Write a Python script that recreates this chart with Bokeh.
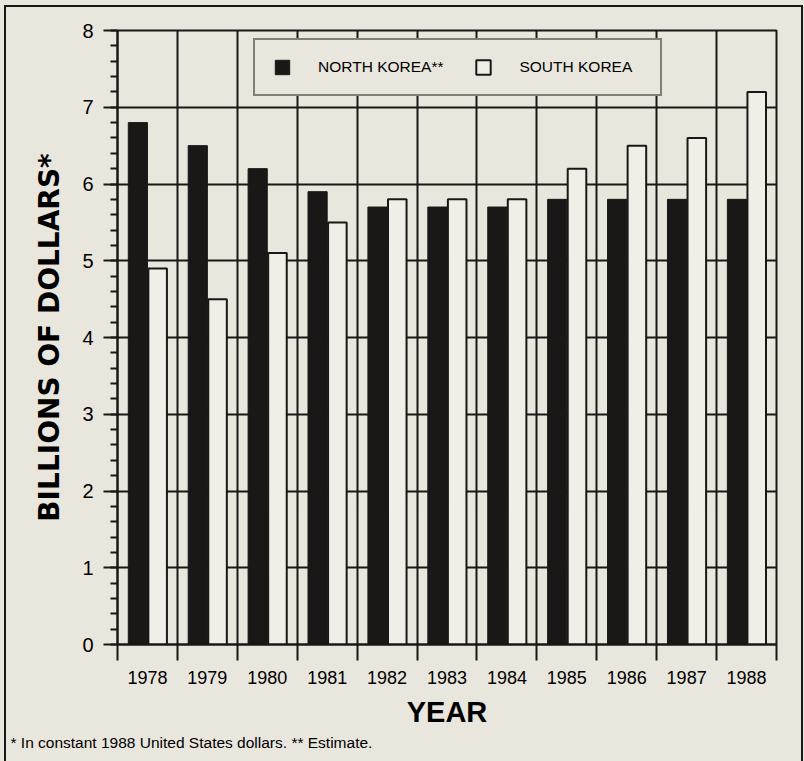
from bokeh.plotting import figure
from bokeh.models import (Range1d, FixedTicker, SingleIntervalTicker, Legend, LegendItem,
                          Title, ColumnDataSource)
from bokeh.embed import file_html
from bokeh.resources import INLINE

years = ["1978", "1979", "1980", "1981", "1982", "1983", "1984", "1985", "1986", "1987", "1988"]
north_korea = [6.8, 6.5, 6.2, 5.9, 5.7, 5.7, 5.7, 5.8, 5.8, 5.8, 5.8]
south_korea = [4.9, 4.5, 5.1, 5.5, 5.8, 5.8, 5.8, 6.2, 6.5, 6.6, 7.2]
y_max = 8
series_labels = ["NORTH KOREA**", "SOUTH KOREA"]
footnote = "* In constant 1988 United States dollars.  ** Estimate."

BG = "#e9e6de"
LIGHT = "#f1eee8"
DARK = "#1b1717"
FONT = "Liberation Sans"

W, H = 804, 761
n = len(years)
centers = [i + 0.5 for i in range(n)]

src = ColumnDataSource(dict(year=years, c=centers, nk=north_korea, sk=south_korea,
                            nkx=[c - 0.16 for c in centers], skx=[c + 0.17 for c in centers]))

p = figure(width=W, height=H, output_backend="svg", toolbar_location=None,
           x_range=Range1d(0, n), y_range=Range1d(0, y_max),
           min_border_left=117, min_border_right=W - 776, min_border_top=30, min_border_bottom=H - 644)
p.background_fill_color = BG
p.border_fill_color = BG
p.border_fill_alpha = 0
p.outline_line_color = DARK
p.outline_line_width = 2
line = f"linear-gradient({DARK},{DARK})"
p.styles = {
    "background": f"{line} 4px 5px / 2px 100% no-repeat, {line} 4px 5px / 799px 2px no-repeat, "
                  f"{line} 801px 5px / 2px 100% no-repeat, {BG}",
}

# grids
p.xgrid.ticker = FixedTicker(ticks=list(range(1, n)))
p.ygrid.ticker = FixedTicker(ticks=list(range(1, y_max)))
for g in (p.xgrid, p.ygrid):
    g.grid_line_color = DARK
    g.grid_line_width = 2

r_nk = p.vbar(x="nkx", top="nk", width=0.32, source=src, fill_color=DARK, line_color=DARK, line_width=1)
r_sk = p.vbar(x="skx", top="sk", width=0.31, source=src, fill_color=LIGHT, line_color=DARK, line_width=2)

# x axis
xa = p.xaxis[0]
xa.ticker = FixedTicker(ticks=centers, minor_ticks=list(range(0, n + 1)))
xa.major_label_overrides = {c: y for c, y in zip(centers, years)}
xa.major_tick_out = 0
xa.major_tick_in = 0
xa.minor_tick_out = 16
xa.minor_tick_in = 0
xa.minor_tick_line_color = DARK
xa.minor_tick_line_width = 2
xa.axis_line_color = DARK
xa.axis_line_width = 2
xa.major_label_standoff = 10
xa.major_label_text_font = FONT
xa.major_label_text_font_size = "18px"
xa.major_label_text_color = "black"
xa.axis_label = "YEAR"
xa.axis_label_text_font = FONT
xa.axis_label_text_font_style = "bold"
xa.axis_label_text_font_size = "29px"
xa.axis_label_text_color = "black"
xa.axis_label_standoff = 9

# y axis
ya = p.yaxis[0]
ya.ticker = SingleIntervalTicker(interval=1, num_minor_ticks=5)
ya.major_tick_out = 14
ya.major_tick_in = 0
ya.minor_tick_out = 7
ya.minor_tick_in = 0
ya.major_tick_line_color = DARK
ya.major_tick_line_width = 2
ya.minor_tick_line_color = DARK
ya.minor_tick_line_width = 2
ya.axis_line_color = DARK
ya.axis_line_width = 2
ya.major_label_standoff = 10
ya.major_label_text_font = FONT
ya.major_label_text_font_size = "20px"
ya.major_label_text_color = "black"
ya.axis_label = "BILLIONS OF DOLLARS*"
ya.axis_label_text_font = "DejaVu Sans"
ya.axis_label_text_font_style = "bold"
ya.axis_label_text_font_size = "28px"
ya.axis_label_text_color = "black"
ya.axis_label_standoff = 13

legend = Legend(items=[LegendItem(label=series_labels[0], renderers=[r_nk]),
                       LegendItem(label=series_labels[1], renderers=[r_sk])],
                orientation="horizontal", location=(136, 548), margin=0, padding=18,
                glyph_width=18, glyph_height=18, label_standoff=27, spacing=31,
                label_height=18, label_width=123,
                label_text_font=FONT, label_text_font_size="15.5px", label_text_color="black",
                border_line_color=DARK, border_line_width=2,
                background_fill_color=BG, background_fill_alpha=1)
p.add_layout(legend, "center")

p.add_layout(Title(text=footnote, align="left", offset=-107, standoff=3,
                   text_font=FONT, text_font_size="15.5px", text_font_style="normal",
                   text_color="black"), "below")

open("out.html", "w").write(file_html(p, INLINE))
